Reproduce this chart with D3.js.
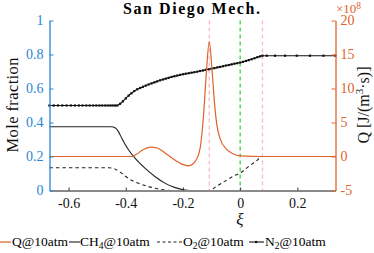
<!DOCTYPE html>
<html>
<head>
<meta charset="utf-8">
<script src="https://cdn.jsdelivr.net/npm/d3@7"></script>
<style>
  body { margin: 0; background: #fff; }
  svg text { font-family: "Liberation Serif", "Times New Roman", "DejaVu Serif", serif; }
</style>
</head>
<body>
<div class="chart"></div>
<script>
// datos
var xiQ  = [-0.667,-0.378,-0.36,-0.34,-0.314,-0.29,-0.265,-0.238,-0.204,-0.18,-0.157,-0.14,-0.128,-0.118,-0.108,-0.098,-0.09,-0.082,-0.07,-0.046,-0.025,0,0.078,0.333];
var valQ = [0,0,0.4,1.0,1.38,1.25,0.6,-0.24,-1.12,-1.37,-0.73,1.23,6.1,12.5,16.9,12.5,8.0,4.8,2.6,1.0,0.4,0.08,0,0];

var xiCH4  = [-0.667,-0.45,-0.436,-0.425,-0.414,-0.39,-0.367,-0.332,-0.297,-0.262,-0.227,-0.192,-0.16,0.333];
var valCH4 = [0.375,0.375,0.368,0.345,0.307,0.238,0.189,0.13,0.081,0.042,0.017,0.003,0,0];

var xiO2  = [-0.667,-0.46,-0.44,-0.42,-0.40,-0.38,-0.355,-0.33,-0.308,-0.28,-0.26,-0.24,-0.108,-0.08,-0.05,-0.02,0,0.03,0.055,0.078,0.333];
var valO2 = [0.134,0.134,0.128,0.108,0.082,0.060,0.042,0.028,0.017,0.007,0.002,0,0,0.028,0.058,0.088,0.103,0.142,0.172,0.2,0.2];

var xiN2 = [-0.667,-0.652,-0.637,-0.622,-0.607,-0.592,-0.578,-0.564,-0.551,-0.538,-0.526,-0.514,-0.503,-0.492,-0.482,-0.472,-0.463,-0.454,-0.446,-0.438,
  -0.43,-0.42,-0.41,-0.40,-0.39,-0.38,-0.37,-0.36,-0.35,-0.34,-0.33,-0.32,-0.31,-0.30,-0.29,-0.28,-0.27,-0.26,-0.25,-0.24,-0.23,-0.22,-0.21,-0.20,
  -0.19,-0.18,-0.17,-0.16,-0.15,-0.14,-0.13,-0.12,-0.11,-0.10,-0.09,-0.08,-0.07,-0.06,-0.05,-0.04,-0.03,-0.02,-0.01,0,0.01,0.02,0.03,0.04,0.05,0.06,0.07,0.078,
  0.093,0.122,0.157,0.198,0.244,0.291,0.333];
var valN2 = [0.5,0.5,0.5,0.5,0.5,0.5,0.5,0.5,0.5,0.5,0.5,0.5,0.5,0.5,0.5,0.5,0.5,0.5,0.5,0.5,
  0.5,0.51,0.525,0.542,0.558,0.572,0.585,0.595,0.603,0.61,0.617,0.624,0.63,0.636,0.642,0.648,0.653,0.658,0.663,0.668,0.672,0.676,0.68,0.684,
  0.687,0.69,0.693,0.696,0.699,0.703,0.706,0.71,0.713,0.717,0.72,0.724,0.727,0.731,0.735,0.738,0.742,0.746,0.749,0.753,0.757,0.762,0.767,0.772,0.778,0.784,0.789,0.793,
  0.793,0.793,0.793,0.793,0.793,0.793,0.793];

var pinkLines = [-0.108, 0.078];
var greenLines = [0];

var xTicks = [-0.6,-0.4,-0.2,0,0.2];
var yLeftTicks = [0,0.2,0.4,0.6,0.8,1];
var yRightTicks = [-5,0,5,10,15,20];

var w = 374, h = 253;
var azul = "#2a86d4", naranja = "#e0622a";
var serif = "Liberation Serif, Times New Roman, DejaVu Serif, serif";

var svg = d3.select(".chart")
  .append("svg")
  .attr("width", w)
  .attr("height", h)
  .attr("font-family", serif);

var x = d3.scaleLinear().domain([-2/3, 1/3]).range([49.5, 335.5]);
var yL = d3.scaleLinear().domain([0, 1]).range([190.5, 20.5]);
var yR = d3.scaleLinear().domain([-5, 20]).range([190.5, 20.5]);

function pares(xs, ys) { return xs.map(function(d,i){ return [d, ys[i]]; }); }

// lineas verticales
svg.selectAll(".pink").data(pinkLines).enter().append("line")
  .attr("x1", function(d){ return x(d); }).attr("x2", function(d){ return x(d); })
  .attr("y1", 20.5).attr("y2", 190.5)
  .attr("stroke", "#f7bcc6").attr("stroke-width", 1.3).attr("stroke-dasharray", "4,3");
svg.selectAll(".green").data(greenLines).enter().append("line")
  .attr("x1", function(d){ return x(d); }).attr("x2", function(d){ return x(d); })
  .attr("y1", 20.5).attr("y2", 190.5)
  .attr("stroke", "#3fd23f").attr("stroke-width", 1.3).attr("stroke-dasharray", "4,3");

var lineL = d3.line().x(function(d){ return x(d[0]); }).y(function(d){ return yL(d[1]); }).curve(d3.curveMonotoneX);
var lineR = d3.line().x(function(d){ return x(d[0]); }).y(function(d){ return yR(d[1]); }).curve(d3.curveMonotoneX);

svg.append("path").attr("d", lineL(pares(xiCH4, valCH4)))
  .attr("fill", "none").attr("stroke", "#222").attr("stroke-width", 1.1);
svg.append("path").attr("d", lineL(pares(xiO2, valO2)))
  .attr("fill", "none").attr("stroke", "#222").attr("stroke-width", 1.1).attr("stroke-dasharray", "3.5,3");
svg.append("path").attr("d", lineL(pares(xiN2, valN2)))
  .attr("fill", "none").attr("stroke", "#111").attr("stroke-width", 1.1);
svg.selectAll(".mk").data(pares(xiN2, valN2)).enter().append("rect")
  .attr("x", function(d){ return x(d[0]) - 1.1; })
  .attr("y", function(d){ return yL(d[1]) - 1.1; })
  .attr("width", 2.2).attr("height", 2.2).attr("fill", "#111");

svg.append("path").attr("d", lineR(pares(xiQ, valQ)))
  .attr("fill", "none").attr("stroke", naranja).attr("stroke-width", 1.2);

// ejes
var fmt = function(d){ return String(d).replace("−", "-"); };
var gx = svg.append("g").attr("transform", "translate(0,190.5)")
  .call(d3.axisBottom(x).tickValues(xTicks).tickSizeInner(-3).tickSizeOuter(0).tickPadding(7.6).tickFormat(fmt));
gx.attr("font-family", serif);
gx.select(".domain").attr("stroke", "#8a8a8a").attr("stroke-width", 2);
gx.selectAll(".tick line").attr("stroke", "#333");
gx.selectAll("text").attr("font-size", 14).attr("fill", "#111");

var gl = svg.append("g").attr("transform", "translate(49.5,0)")
  .call(d3.axisLeft(yL).tickValues(yLeftTicks).tickSizeInner(-4).tickSizeOuter(0).tickPadding(6).tickFormat(fmt));
gl.attr("font-family", serif);
gl.select(".domain").attr("stroke", azul).attr("stroke-width", 1.3);
gl.selectAll(".tick line").attr("stroke", azul);
gl.selectAll("text").attr("font-size", 14).attr("fill", azul);

var gr = svg.append("g").attr("transform", "translate(335.5,0)")
  .call(d3.axisRight(yR).tickValues(yRightTicks).tickSizeInner(-4).tickSizeOuter(0).tickPadding(5).tickFormat(fmt));
gr.attr("font-family", serif);
gr.select(".domain").attr("stroke", naranja).attr("stroke-width", 1.3);
gr.selectAll(".tick line").attr("stroke", naranja);
gr.selectAll("text").attr("font-size", 14).attr("fill", naranja);

// textos
svg.append("text").attr("x", 191.5).attr("y", 13.5).attr("text-anchor", "middle")
  .attr("font-size", 16).attr("font-weight", "bold").attr("textLength", 137).text("San Diego Mech.");

svg.append("text").attr("transform", "translate(18,105) rotate(-90)").attr("text-anchor", "middle")
  .attr("font-size", 16.5).attr("fill", "#111").attr("textLength", 95).text("Mole fraction");

var qlab = svg.append("text").attr("transform", "translate(369,105) rotate(-90)").attr("text-anchor", "middle")
  .attr("font-size", 16).attr("fill", "#111");
qlab.append("tspan").text("Q [J/(m");
qlab.append("tspan").attr("dy", -6).attr("font-size", 11).text("3");
qlab.append("tspan").attr("dy", 6).text("·s)]");

var exp = svg.append("text").attr("x", 336).attr("y", 12.5).attr("font-size", 13).attr("fill", naranja);
exp.append("tspan").text("×10");
exp.append("tspan").attr("dy", -4).attr("font-size", 9.5).text("8");

svg.append("text").attr("x", 240).attr("y", 225).attr("text-anchor", "middle")
  .attr("font-size", 17).attr("font-style", "italic").attr("fill", "#111").text("ξ");

// leyenda
var leg = svg.append("g").attr("font-size", 13.5);
leg.append("line").attr("x1", 0).attr("x2", 11).attr("y1", 242).attr("y2", 242).attr("stroke", naranja).attr("stroke-width", 1.2);
leg.append("text").attr("x", 12).attr("y", 246).text("Q@10atm");

leg.append("line").attr("x1", 69).attr("x2", 80).attr("y1", 242).attr("y2", 242).attr("stroke", "#222").attr("stroke-width", 1.1);
var t2 = leg.append("text").attr("x", 80).attr("y", 246);
t2.append("tspan").text("CH");
t2.append("tspan").attr("dy", 3).attr("font-size", 9.5).text("4");
t2.append("tspan").attr("dy", -3).text("@10atm");

leg.append("line").attr("x1", 157).attr("x2", 182).attr("y1", 242).attr("y2", 242).attr("stroke", "#222").attr("stroke-width", 1.1).attr("stroke-dasharray", "3,2.5");
var t3 = leg.append("text").attr("x", 183).attr("y", 246);
t3.append("tspan").text("O");
t3.append("tspan").attr("dy", 3).attr("font-size", 9.5).text("2");
t3.append("tspan").attr("dy", -3).text("@10atm");

leg.append("line").attr("x1", 249).attr("x2", 264).attr("y1", 242).attr("y2", 242).attr("stroke", "#111").attr("stroke-width", 1.1);
leg.append("rect").attr("x", 255).attr("y", 240.9).attr("width", 2.2).attr("height", 2.2).attr("fill", "#111");
var t4 = leg.append("text").attr("x", 265).attr("y", 246);
t4.append("tspan").text("N");
t4.append("tspan").attr("dy", 3).attr("font-size", 9.5).text("2");
t4.append("tspan").attr("dy", -3).text("@10atm");
</script>
</body>
</html>
